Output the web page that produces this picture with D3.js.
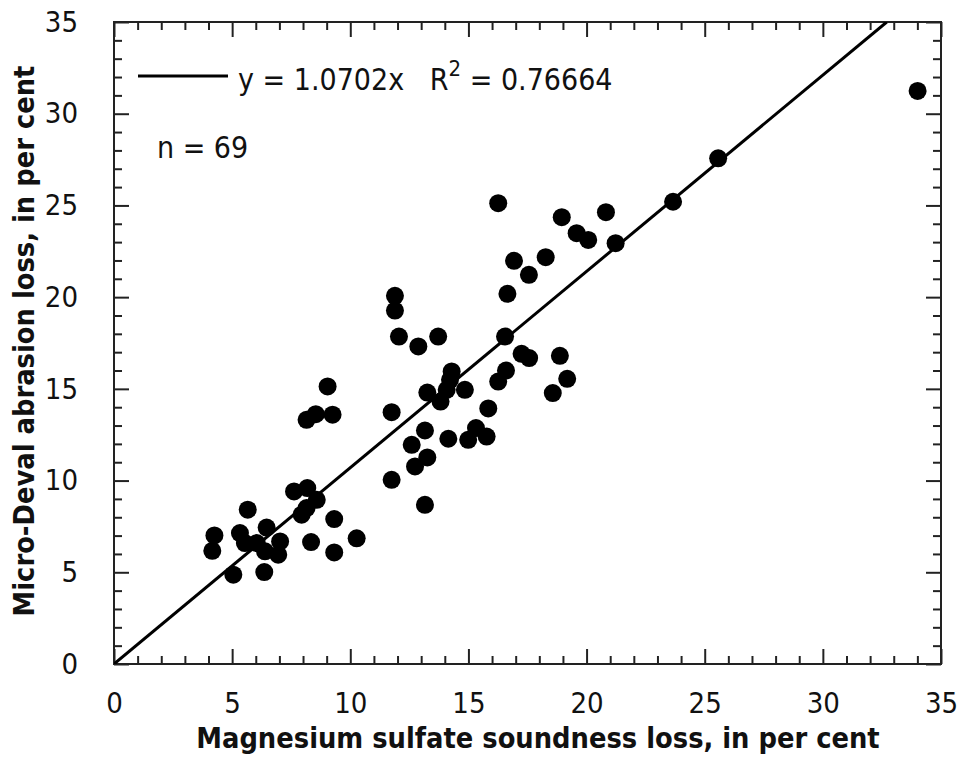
<!DOCTYPE html>
<html>
<head>
<meta charset="utf-8">
<script src="https://cdn.jsdelivr.net/npm/d3@7"></script>
<style>
  body { margin: 0; background: #fff; }
  svg { display: block; }
  .tick text { font-family: "DejaVu Sans Condensed", "DejaVu Sans", sans-serif; }
</style>
</head>
<body>
<div id="chart"></div>
<script>
'use strict';

// Magnesium sulfate soundness loss (x) vs Micro-Deval abrasion loss (y), per cent
var sulfateLoss = [
  9.04, 8.15, 8.54, 9.25, 7.62, 8.18, 8.58, 7.94, 8.15, 5.66,
  9.32, 4.25, 4.16, 5.33, 5.54, 6.46, 6.04, 6.39, 7.03, 6.95,
  8.34, 9.32, 10.27, 5.05, 6.36,
  16.26, 18.95, 20.82, 19.58, 20.07, 21.23, 16.93, 18.27, 17.56, 16.65,
  11.89, 11.89, 12.06, 12.88, 13.72, 16.55, 17.25, 17.57, 18.87, 19.18,
  18.57, 16.59, 16.26, 14.29, 14.22, 14.08, 14.85, 13.26, 13.82, 11.75,
  15.84, 13.16, 12.6, 14.15, 15.32, 14.99, 15.77, 13.26, 12.74, 11.75,
  13.16, 25.57, 34.01, 23.66
];
var microDevalLoss = [
  15.13, 13.31, 13.62, 13.59, 9.41, 9.59, 8.95, 8.14, 8.5, 8.41,
  7.9, 7.01, 6.17, 7.14, 6.59, 7.44, 6.59, 6.14, 6.68, 5.96,
  6.65, 6.08, 6.85, 4.87, 5.01,
  25.12, 24.36, 24.63, 23.49, 23.12, 22.94, 21.98, 22.18, 21.22, 20.18,
  20.07, 19.27, 17.85, 17.31, 17.85, 17.85, 16.91, 16.68, 16.8, 15.55,
  14.77, 16.0, 15.4, 15.95, 15.49, 14.95, 14.95, 14.8, 14.31, 13.73,
  13.93, 12.73, 11.95, 12.28, 12.86, 12.22, 12.4, 11.26, 10.77, 10.04,
  8.68, 27.57, 31.24, 25.2
];

var slope = 1.0702;
var rSquared = '0.76664';
var sampleSize = 69;
var majorTicks = [0, 5, 10, 15, 20, 25, 30, 35];
var minorTicks = d3.range(0, 36).filter(function(v) { return v % 5 !== 0; });

var margin = {top: 22, right: 21, bottom: 93, left: 114},
    width = 962 - margin.left - margin.right,
    height = 757 - margin.top - margin.bottom;

var font = '"DejaVu Sans Condensed", "DejaVu Sans", sans-serif';

var x = d3.scaleLinear().domain([0, 35]).range([0, width]);
var y = d3.scaleLinear().domain([0, 35]).range([height, 0]);

var svg = d3.select('#chart')
  .append('svg')
    .attr('width', 962)
    .attr('height', 757);

var vis = svg.append('g')
    .attr('transform', 'translate(' + margin.left + ',' + margin.top + ')');

// axes with inward ticks on all four sides
function styleAxis(g) {
  g.select('.domain').remove();
  g.selectAll('.tick line').attr('stroke', '#222').attr('stroke-width', 2);
  g.selectAll('.tick text').attr('fill', '#111').attr('font-size', 29);
}

vis.append('g')
    .attr('transform', 'translate(0,' + height + ')')
    .call(d3.axisBottom(x).tickValues(majorTicks).tickSize(-15).tickPadding(28))
    .call(styleAxis);
vis.append('g')
    .attr('transform', 'translate(0,' + height + ')')
    .call(d3.axisBottom(x).tickValues(minorTicks).tickSize(-8).tickFormat(''))
    .call(styleAxis);
vis.append('g')
    .call(d3.axisLeft(y).tickValues(majorTicks).tickSize(-15).tickPadding(36))
    .call(styleAxis);
vis.append('g')
    .call(d3.axisLeft(y).tickValues(minorTicks).tickSize(-8).tickFormat(''))
    .call(styleAxis);
vis.append('g')
    .call(d3.axisTop(x).tickValues(majorTicks).tickSize(-15).tickFormat(''))
    .call(styleAxis);
vis.append('g')
    .call(d3.axisTop(x).tickValues(minorTicks).tickSize(-8).tickFormat(''))
    .call(styleAxis);
vis.append('g')
    .attr('transform', 'translate(' + width + ',0)')
    .call(d3.axisRight(y).tickValues(majorTicks).tickSize(-15).tickFormat(''))
    .call(styleAxis);
vis.append('g')
    .attr('transform', 'translate(' + width + ',0)')
    .call(d3.axisRight(y).tickValues(minorTicks).tickSize(-8).tickFormat(''))
    .call(styleAxis);

// frame
vis.append('rect')
    .attr('width', width)
    .attr('height', height)
    .attr('fill', 'none')
    .attr('stroke', '#222')
    .attr('stroke-width', 2);

// clip so the fit line stops at the top border
vis.append('clipPath').attr('id', 'plot-clip')
  .append('rect').attr('width', width).attr('height', height);

// fitted line through the origin
var xEnd = 35 / slope;
vis.append('line')
    .attr('clip-path', 'url(#plot-clip)')
    .attr('x1', x(0)).attr('y1', y(0))
    .attr('x2', x(xEnd)).attr('y2', y(slope * xEnd))
    .attr('stroke', '#000')
    .attr('stroke-width', 3);

// the points
vis.selectAll('circle')
    .data(d3.range(sulfateLoss.length))
  .enter().append('circle')
    .attr('cx', function(i) { return x(sulfateLoss[i]); })
    .attr('cy', function(i) { return y(microDevalLoss[i]); })
    .attr('r', 9)
    .attr('fill', '#000');

// legend
vis.append('line')
    .attr('x1', 24).attr('x2', 114)
    .attr('y1', 54).attr('y2', 54)
    .attr('stroke', '#000')
    .attr('stroke-width', 3);

var legendText = vis.append('text')
    .attr('x', 124)
    .attr('y', 68)
    .attr('font-family', font)
    .attr('font-size', 30)
    .attr('fill', '#111')
    .attr('xml:space', 'preserve');
legendText.append('tspan').text('y = ' + slope + 'x   R');
legendText.append('tspan').attr('font-size', 22).attr('dy', -14).text('2');
legendText.append('tspan').attr('dy', 14).text(' = ' + rSquared);

vis.append('text')
    .attr('x', 43)
    .attr('y', 136)
    .attr('font-family', font)
    .attr('font-size', 30)
    .attr('fill', '#111')
    .text('n = ' + sampleSize);

// axis titles
svg.append('text')
    .attr('x', 538)
    .attr('y', 748)
    .attr('text-anchor', 'middle')
    .attr('font-family', font)
    .attr('font-weight', 'bold')
    .attr('font-size', 28.7)
    .attr('fill', '#111')
    .text('Magnesium sulfate soundness loss, in per cent');

svg.append('text')
    .attr('transform', 'translate(34,' + 341 + ') rotate(-90)')
    .attr('text-anchor', 'middle')
    .attr('font-family', font)
    .attr('font-weight', 'bold')
    .attr('font-size', 28.7)
    .attr('fill', '#111')
    .text('Micro-Deval abrasion loss, in per cent');
</script>
</body>
</html>
